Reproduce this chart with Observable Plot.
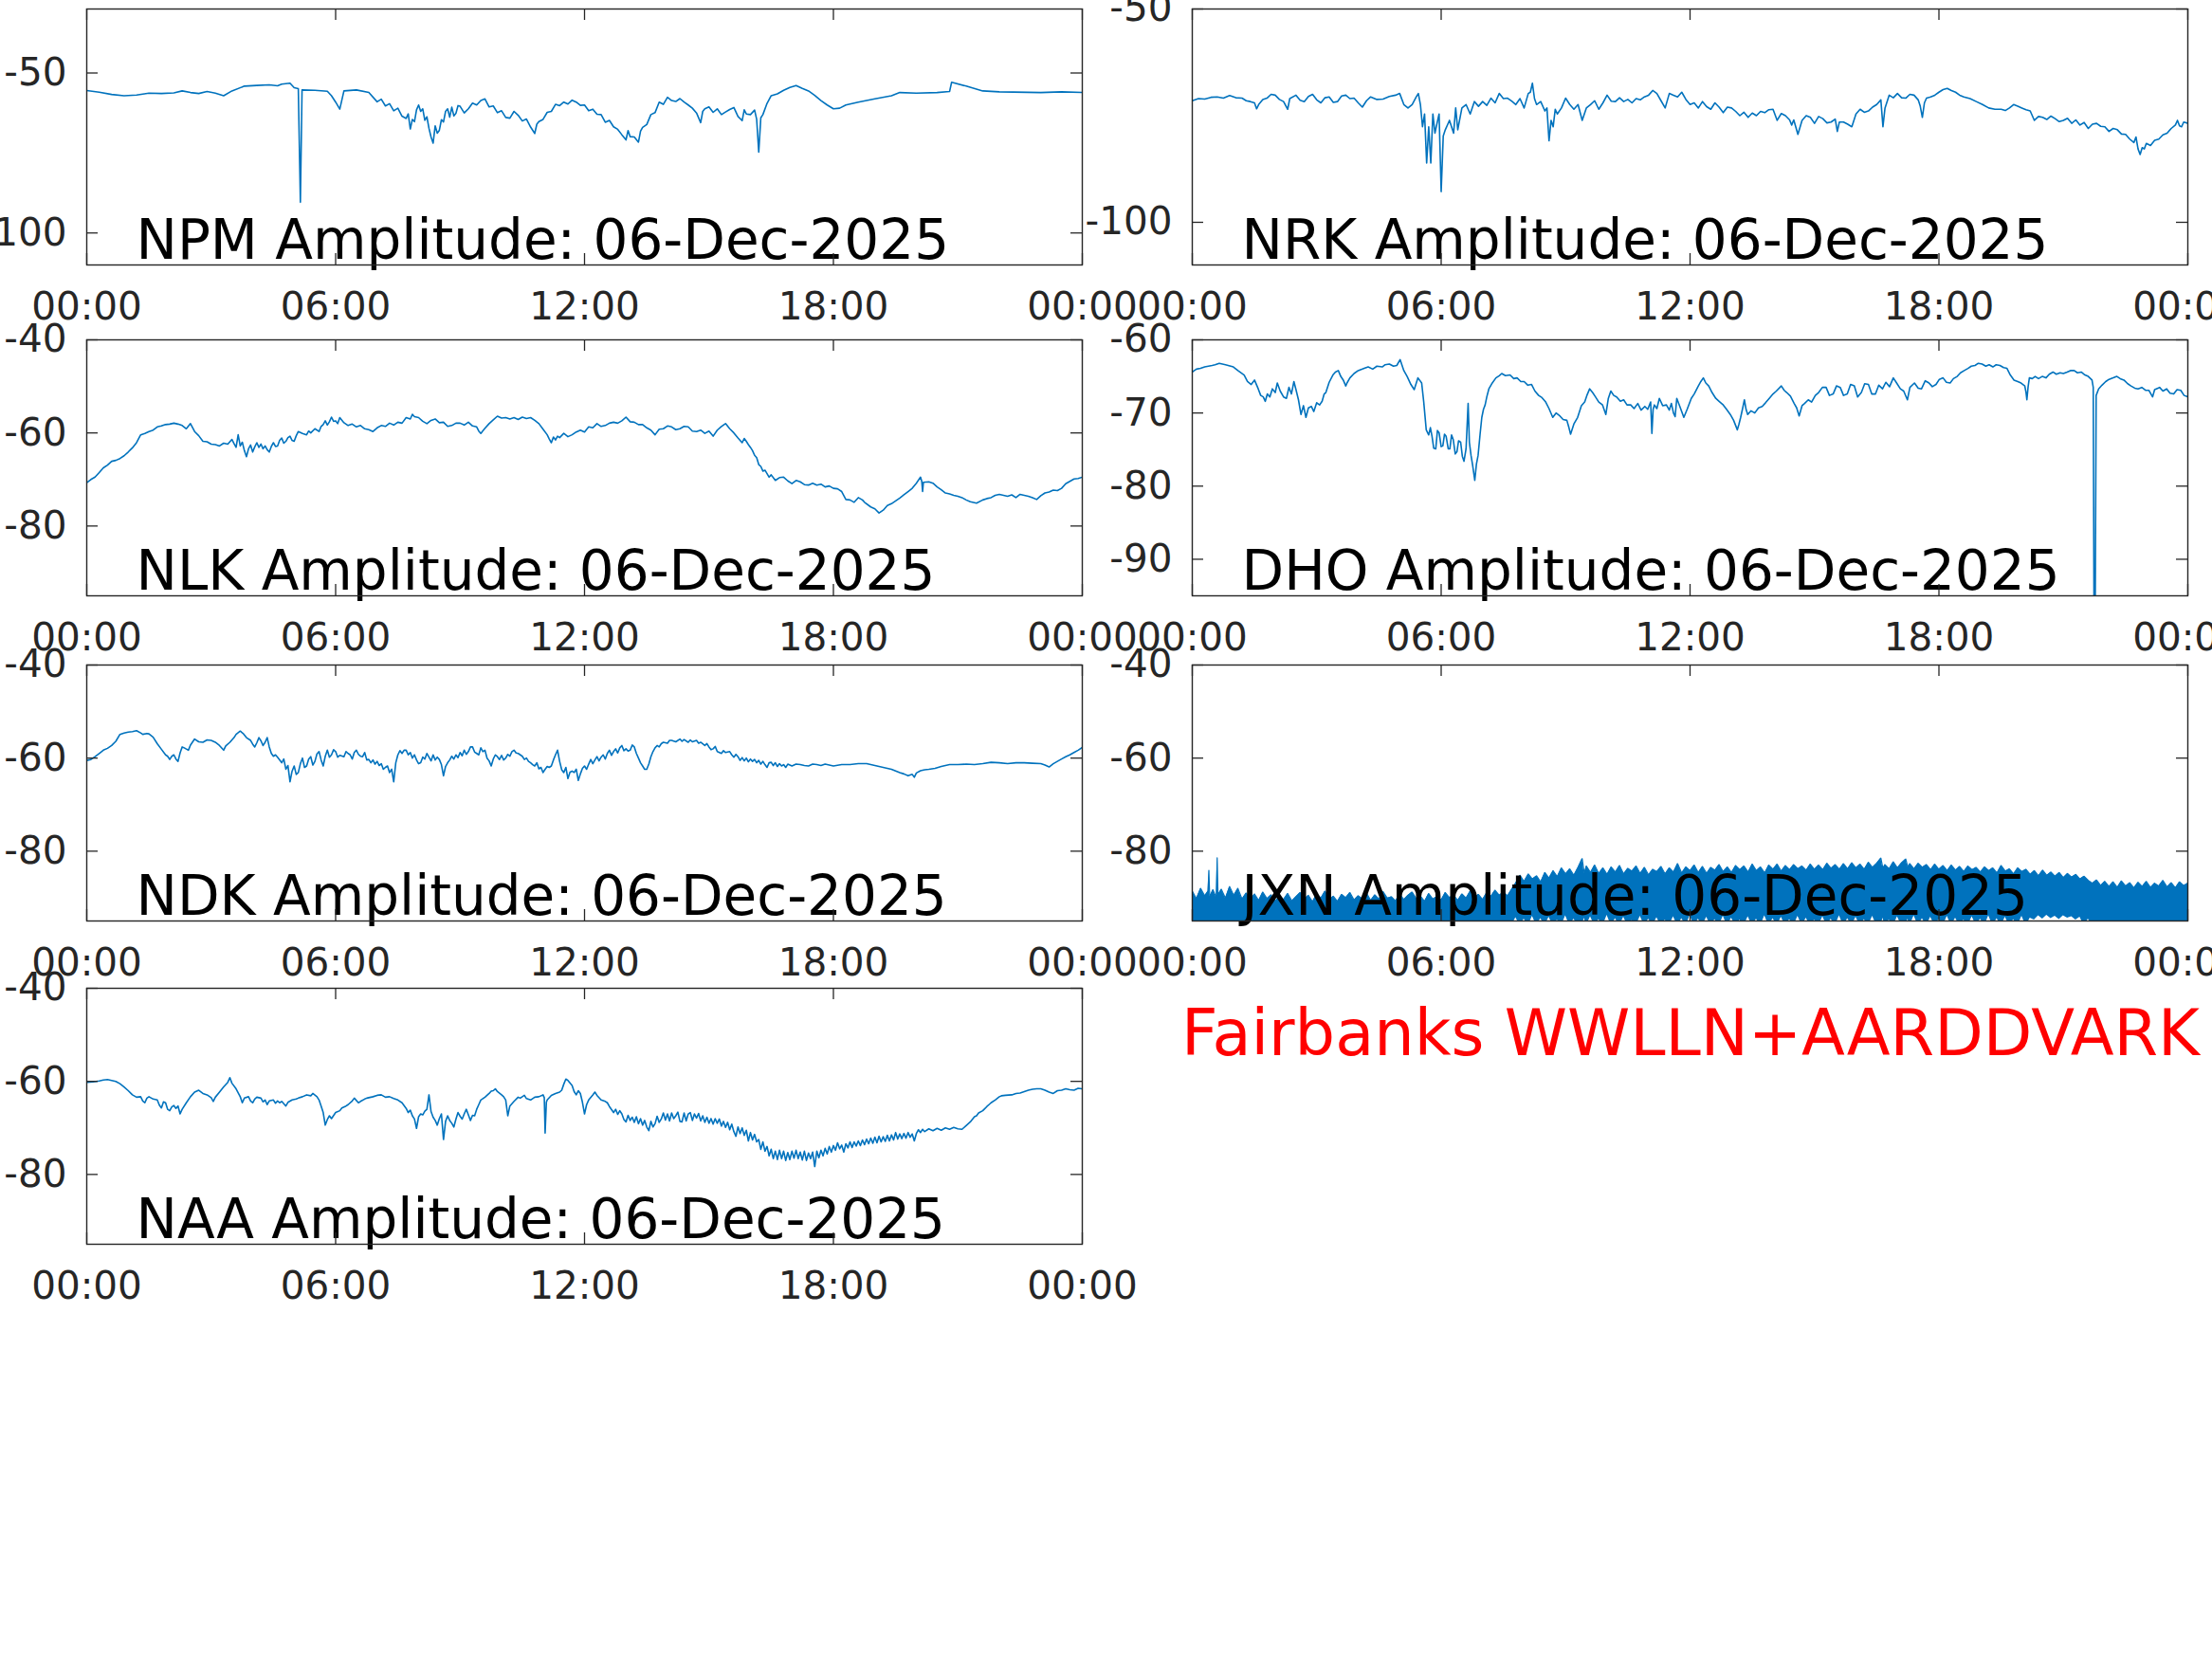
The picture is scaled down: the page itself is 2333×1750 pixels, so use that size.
<!DOCTYPE html>
<html><head><meta charset="utf-8">
<script src="https://cdn.jsdelivr.net/npm/d3@7"></script>
<script src="https://cdn.jsdelivr.net/npm/@observablehq/plot@0.6"></script>
<style>
html,body{margin:0;padding:0;background:#fff;}
#page{position:relative;width:2333px;height:1750px;overflow:hidden;background:#fff;font-family:"DejaVu Sans",sans-serif;}
#page svg{position:absolute;overflow:visible;}
#caption{position:absolute;left:1246px;top:1057px;font-size:67px;line-height:1;color:#ff0000;white-space:nowrap;font-family:"DejaVu Sans",sans-serif;}
</style></head><body><div id="page"><div id="caption">Fairbanks WWLLN+AARDDVARK</div></div>
<script>
// ---- tick labels ----
const xTicks = [0, 6, 12, 18, 24];
const xTickLabels = ["00:00", "06:00", "12:00", "18:00", "00:00"];
const dateLabel = "06-Dec-2025";
const captionText = "Fairbanks WWLLN+AARDDVARK";

// ---- series: [hour, amplitude dB] ----
const npm = [[0,-55.5],[0.3,-56],[0.6,-56.7],[0.9,-57.1],[1.2,-56.9],[1.5,-56.3],[1.8,-56.4],[2.1,-56.2],[2.3,-55.6],[2.5,-56.1],[2.7,-56.4],[2.9,-55.8],[3.1,-56.3],[3.3,-57.1],[3.5,-55.6],[3.8,-54.1],[4.1,-53.9],[4.4,-53.7],[4.6,-54.0],[4.7,-53.5],[4.9,-53.2],[5.0,-54.6],[5.1,-54.9],[5.15,-90.4],[5.19,-55.3],[5.5,-55.4],[5.8,-55.7],[5.9,-57.1],[6.0,-59.1],[6.1,-61.3],[6.2,-55.6],[6.5,-55.3],[6.8,-56.1],[7.0,-59.0],[7.1,-58.2],[7.2,-60.3],[7.3,-59.6],[7.4,-61.8],[7.5,-61.0],[7.6,-63.5],[7.7,-64.2],[7.75,-62.8],[7.8,-67.5],[7.85,-64.5],[7.9,-65.2],[7.95,-61.5],[8.0,-60.0],[8.05,-62.0],[8.1,-61.2],[8.15,-64.8],[8.2,-63.7],[8.25,-67.3],[8.3,-70.0],[8.35,-71.9],[8.4,-66.5],[8.45,-68.8],[8.5,-67.9],[8.55,-64.6],[8.6,-65.3],[8.65,-62.0],[8.7,-61.2],[8.75,-63.8],[8.8,-60.7],[8.85,-63.4],[8.9,-62.6],[8.95,-60.2],[9.0,-60.4],[9.1,-62.5],[9.2,-61.2],[9.3,-59.4],[9.4,-60.0],[9.5,-58.6],[9.6,-58.1],[9.7,-60.6],[9.8,-60.3],[9.9,-62.4],[10.0,-61.8],[10.1,-63.9],[10.2,-64.1],[10.3,-62.0],[10.4,-63.2],[10.5,-65.0],[10.6,-64.4],[10.7,-66.9],[10.8,-68.9],[10.85,-66.0],[10.9,-65.2],[11.0,-64.5],[11.1,-62.3],[11.2,-62.0],[11.3,-59.8],[11.4,-60.2],[11.5,-59.1],[11.6,-59.7],[11.7,-58.5],[11.8,-59.1],[11.9,-60.1],[12.0,-60.0],[12.1,-61.8],[12.2,-61.3],[12.3,-62.9],[12.4,-63.0],[12.5,-65.4],[12.6,-64.8],[12.7,-66.8],[12.8,-67.6],[12.9,-69.3],[13.0,-70.9],[13.05,-68.0],[13.1,-69.9],[13.2,-70.0],[13.3,-71.6],[13.35,-68.2],[13.4,-67.0],[13.5,-66.1],[13.6,-63.0],[13.7,-62.4],[13.8,-59.1],[13.9,-59.8],[14.0,-57.6],[14.1,-58.6],[14.2,-58.9],[14.3,-58.0],[14.4,-59.1],[14.5,-60.0],[14.6,-61.0],[14.7,-62.5],[14.8,-65.5],[14.85,-62.0],[14.9,-61.2],[15.0,-60.6],[15.1,-62.3],[15.2,-61.2],[15.3,-63.0],[15.4,-62.2],[15.5,-61.4],[15.6,-60.8],[15.7,-63.6],[15.8,-64.9],[15.85,-61.5],[15.9,-62.8],[16.0,-63.0],[16.1,-61.6],[16.15,-64.5],[16.2,-74.7],[16.25,-64.0],[16.3,-63.0],[16.4,-59.5],[16.5,-57.1],[16.65,-56.5],[16.8,-55.4],[16.95,-54.5],[17.1,-53.9],[17.25,-54.8],[17.4,-55.6],[17.55,-57.0],[17.7,-58.6],[17.85,-60.0],[18.0,-61.2],[18.15,-61.0],[18.3,-60.0],[18.6,-59.1],[19.0,-58.1],[19.4,-57.1],[19.6,-56.1],[20.0,-56.3],[20.5,-56.1],[20.8,-55.8],[20.85,-52.9],[21.2,-54.1],[21.6,-55.6],[22,-55.9],[23,-56.1],[23.5,-55.9],[24,-56.1]];

const nrk = [[0,-71.5],[0.15,-71.0],[0.3,-71.1],[0.45,-70.7],[0.6,-70.6],[0.75,-70.9],[0.9,-70.3],[1.05,-70.8],[1.2,-70.9],[1.3,-71.5],[1.4,-71.7],[1.5,-72.0],[1.55,-73.4],[1.6,-72.4],[1.7,-71.2],[1.8,-70.9],[1.9,-70.0],[2.0,-70.2],[2.1,-71.2],[2.2,-71.7],[2.3,-73.5],[2.35,-71.0],[2.5,-70.2],[2.6,-71.4],[2.7,-71.7],[2.8,-70.5],[2.9,-70.0],[3.0,-71.3],[3.1,-72.0],[3.2,-70.8],[3.3,-70.6],[3.4,-71.9],[3.5,-71.7],[3.6,-70.4],[3.7,-70.2],[3.8,-71.0],[3.9,-70.9],[4.0,-72.0],[4.1,-73.0],[4.2,-71.5],[4.3,-70.6],[4.45,-71.2],[4.6,-71.1],[4.75,-70.5],[4.9,-70.2],[5.0,-69.8],[5.1,-72.4],[5.2,-73.2],[5.3,-72.4],[5.4,-70.6],[5.45,-69.8],[5.5,-72.4],[5.55,-77.6],[5.6,-74.6],[5.65,-86.1],[5.7,-77.6],[5.75,-86.1],[5.8,-74.6],[5.85,-79.1],[5.9,-76.8],[5.95,-74.6],[6.0,-92.8],[6.05,-79.8],[6.1,-78.3],[6.2,-76.1],[6.3,-79.1],[6.35,-73.2],[6.4,-78.3],[6.5,-73.2],[6.6,-72.4],[6.7,-74.6],[6.8,-71.7],[6.9,-72.8],[7.0,-71.7],[7.1,-72.6],[7.2,-70.9],[7.3,-72.0],[7.4,-69.8],[7.5,-71.0],[7.6,-70.9],[7.7,-71.6],[7.8,-72.4],[7.9,-71.0],[8.0,-73.2],[8.1,-69.8],[8.15,-69.5],[8.2,-67.4],[8.25,-71.0],[8.3,-72.4],[8.4,-71.7],[8.5,-73.9],[8.55,-73.2],[8.6,-80.9],[8.65,-76.1],[8.7,-77.6],[8.75,-73.5],[8.8,-74.6],[8.9,-73.2],[9.0,-70.9],[9.1,-72.4],[9.2,-73.5],[9.3,-72.4],[9.4,-76.1],[9.5,-73.2],[9.6,-72.4],[9.7,-71.5],[9.8,-73.5],[9.9,-72.0],[10.0,-70.2],[10.1,-71.6],[10.2,-71.7],[10.3,-70.8],[10.4,-71.7],[10.5,-71.2],[10.6,-72.0],[10.7,-71.0],[10.8,-71.3],[10.9,-70.6],[11.0,-70.2],[11.1,-69.1],[11.2,-69.8],[11.3,-71.5],[11.4,-73.2],[11.5,-69.8],[11.6,-70.2],[11.7,-70.6],[11.8,-69.5],[11.9,-71.2],[12.0,-72.4],[12.1,-72.0],[12.2,-73.2],[12.3,-71.7],[12.4,-72.9],[12.5,-73.5],[12.6,-72.0],[12.7,-73.0],[12.8,-74.3],[12.9,-73.0],[13.0,-73.2],[13.1,-74.0],[13.2,-75.0],[13.3,-74.2],[13.4,-75.4],[13.5,-74.4],[13.6,-75.0],[13.7,-74.0],[13.8,-74.3],[13.9,-73.6],[14.0,-73.5],[14.1,-76.1],[14.2,-74.5],[14.3,-75.0],[14.4,-76.0],[14.45,-77.2],[14.5,-76.0],[14.6,-79.4],[14.7,-76.1],[14.8,-75.0],[14.9,-75.4],[15.0,-76.8],[15.1,-75.2],[15.2,-75.7],[15.3,-76.7],[15.4,-76.5],[15.5,-75.8],[15.55,-78.7],[15.6,-76.5],[15.7,-76.5],[15.8,-77.0],[15.9,-77.6],[16.0,-74.6],[16.1,-73.5],[16.2,-74.2],[16.3,-73.9],[16.4,-73.0],[16.5,-72.4],[16.6,-71.3],[16.65,-77.6],[16.7,-73.2],[16.8,-70.2],[16.9,-70.8],[17.0,-69.8],[17.1,-70.8],[17.2,-70.9],[17.3,-70.0],[17.4,-70.2],[17.5,-71.3],[17.55,-72.8],[17.6,-75.4],[17.65,-72.0],[17.7,-70.9],[17.8,-70.6],[17.9,-70.2],[18.0,-69.5],[18.1,-68.9],[18.2,-68.6],[18.3,-69.1],[18.4,-69.5],[18.5,-70.2],[18.6,-70.6],[18.75,-71.0],[18.9,-71.7],[19.05,-72.4],[19.2,-73.2],[19.35,-73.5],[19.5,-73.5],[19.6,-73.8],[19.7,-73.2],[19.8,-72.4],[19.9,-72.8],[20.0,-73.2],[20.1,-73.6],[20.2,-73.9],[20.3,-76.1],[20.4,-75.2],[20.5,-75.4],[20.6,-75.9],[20.7,-75.1],[20.8,-75.7],[20.9,-76.4],[21.0,-76.1],[21.1,-75.6],[21.2,-76.8],[21.3,-76.0],[21.4,-77.2],[21.5,-76.6],[21.6,-78.0],[21.7,-77.0],[21.8,-76.8],[21.9,-77.5],[22.0,-77.6],[22.1,-78.7],[22.2,-78.0],[22.3,-78.3],[22.4,-79.3],[22.5,-79.4],[22.6,-80.5],[22.7,-81.3],[22.75,-80.0],[22.8,-82.8],[22.85,-84.1],[22.9,-82.5],[22.95,-82.8],[23.0,-81.5],[23.1,-82.0],[23.2,-80.8],[23.3,-80.5],[23.4,-79.5],[23.5,-79.1],[23.6,-78.0],[23.7,-77.2],[23.75,-76.1],[23.8,-77.4],[23.85,-77.6],[23.9,-76.5],[24,-76.8]];

const nlk = [[0,-70.7],[0.1,-70.0],[0.2,-69.5],[0.3,-68.5],[0.4,-67.5],[0.5,-66.9],[0.6,-66.1],[0.7,-65.9],[0.8,-65.5],[0.9,-64.9],[1.0,-64.1],[1.1,-63.2],[1.2,-62.1],[1.3,-60.4],[1.4,-60.1],[1.5,-59.7],[1.6,-59.4],[1.7,-58.7],[1.8,-58.5],[1.9,-58.2],[2.0,-58.1],[2.1,-57.9],[2.2,-58.1],[2.3,-58.4],[2.4,-59.1],[2.5,-58.0],[2.6,-59.7],[2.7,-60.6],[2.8,-61.8],[2.9,-61.9],[3.0,-62.4],[3.1,-62.5],[3.2,-62.8],[3.3,-62.2],[3.4,-62.4],[3.5,-61.4],[3.55,-62.3],[3.6,-63.1],[3.65,-60.4],[3.7,-62.8],[3.75,-62.0],[3.8,-63.8],[3.85,-65.1],[3.9,-63.4],[3.95,-62.6],[4.0,-64.1],[4.05,-63.0],[4.1,-62.1],[4.15,-63.1],[4.2,-62.4],[4.25,-63.4],[4.3,-62.8],[4.35,-63.6],[4.4,-64.1],[4.45,-62.9],[4.5,-62.1],[4.55,-62.9],[4.6,-62.8],[4.65,-61.6],[4.7,-61.1],[4.75,-62.2],[4.8,-61.8],[4.85,-61.0],[4.9,-60.7],[4.95,-61.6],[5.0,-61.8],[5.05,-60.6],[5.1,-59.7],[5.2,-60.1],[5.3,-60.4],[5.35,-59.6],[5.4,-60.0],[5.5,-59.1],[5.6,-59.7],[5.65,-58.6],[5.7,-58.2],[5.75,-57.4],[5.8,-58.3],[5.85,-57.6],[5.9,-56.6],[5.95,-57.5],[6.0,-57.4],[6.05,-58.0],[6.1,-56.7],[6.2,-57.8],[6.3,-58.4],[6.4,-58.1],[6.5,-58.7],[6.6,-58.4],[6.7,-59.1],[6.8,-59.3],[6.9,-59.7],[7.0,-58.9],[7.1,-58.4],[7.2,-58.6],[7.3,-57.9],[7.4,-58.3],[7.5,-57.7],[7.6,-57.9],[7.7,-56.7],[7.8,-57.0],[7.85,-56.0],[7.9,-56.5],[8.0,-56.7],[8.1,-57.5],[8.2,-58.0],[8.3,-57.3],[8.4,-57.0],[8.5,-57.8],[8.6,-57.7],[8.7,-58.6],[8.8,-58.4],[8.9,-57.9],[9.0,-57.9],[9.1,-58.3],[9.2,-57.7],[9.3,-58.5],[9.4,-58.7],[9.45,-59.6],[9.5,-60.1],[9.6,-59.0],[9.7,-58.0],[9.8,-57.2],[9.9,-56.4],[10.0,-56.8],[10.1,-56.7],[10.2,-57.0],[10.3,-56.7],[10.4,-57.1],[10.5,-56.6],[10.6,-56.9],[10.7,-56.7],[10.8,-57.3],[10.9,-58.0],[11.0,-59.2],[11.1,-60.4],[11.15,-61.3],[11.2,-62.1],[11.25,-60.9],[11.3,-61.5],[11.35,-60.7],[11.4,-61.0],[11.5,-60.1],[11.6,-60.8],[11.7,-60.4],[11.8,-59.8],[11.9,-59.4],[12.0,-59.8],[12.1,-58.7],[12.2,-58.9],[12.3,-58.0],[12.4,-58.6],[12.5,-58.4],[12.6,-57.9],[12.7,-57.7],[12.8,-57.9],[12.9,-57.4],[13.0,-56.6],[13.1,-57.6],[13.2,-57.7],[13.3,-58.2],[13.4,-58.2],[13.5,-58.9],[13.6,-59.4],[13.7,-60.4],[13.8,-59.2],[13.9,-59.1],[14.0,-58.5],[14.1,-58.7],[14.2,-59.3],[14.3,-59.1],[14.4,-58.6],[14.5,-58.7],[14.6,-59.6],[14.7,-59.7],[14.8,-59.4],[14.9,-60.1],[15.0,-59.6],[15.1,-60.7],[15.2,-59.4],[15.3,-58.6],[15.4,-58.0],[15.5,-59.1],[15.6,-60.0],[15.7,-61.1],[15.8,-62.1],[15.85,-61.2],[15.9,-61.8],[15.95,-62.5],[16.0,-63.1],[16.05,-63.8],[16.1,-64.8],[16.15,-65.3],[16.2,-66.8],[16.25,-67.2],[16.3,-68.2],[16.35,-68.0],[16.45,-69.5],[16.5,-69.0],[16.6,-70.2],[16.7,-69.6],[16.8,-69.5],[16.9,-70.3],[17.0,-70.9],[17.1,-70.2],[17.2,-70.5],[17.3,-71.1],[17.4,-71.2],[17.5,-70.8],[17.6,-71.2],[17.7,-71.0],[17.8,-71.6],[17.9,-71.4],[18.0,-71.9],[18.1,-72.0],[18.2,-72.6],[18.3,-74.3],[18.4,-74.4],[18.5,-74.9],[18.6,-73.9],[18.7,-74.4],[18.75,-74.9],[18.9,-75.9],[19.0,-76.3],[19.1,-77.2],[19.2,-76.6],[19.3,-75.6],[19.4,-75.2],[19.5,-74.6],[19.6,-74.0],[19.7,-73.3],[19.8,-72.6],[19.9,-71.9],[20.0,-70.8],[20.1,-69.5],[20.13,-70.4],[20.15,-72.6],[20.17,-70.6],[20.3,-70.5],[20.4,-70.8],[20.5,-71.6],[20.6,-72.2],[20.7,-72.9],[20.8,-73.1],[20.9,-73.4],[21.0,-73.6],[21.1,-73.9],[21.2,-74.4],[21.3,-74.8],[21.45,-75.1],[21.6,-74.4],[21.7,-74.1],[21.8,-73.9],[21.9,-73.4],[22.0,-73.2],[22.1,-73.4],[22.2,-73.6],[22.3,-73.3],[22.4,-73.9],[22.5,-73.2],[22.6,-73.4],[22.7,-73.6],[22.8,-73.9],[22.9,-74.3],[23.0,-73.5],[23.1,-72.9],[23.2,-72.7],[23.3,-72.3],[23.4,-72.4],[23.5,-71.9],[23.6,-70.9],[23.7,-70.4],[23.8,-69.9],[23.9,-69.8],[24,-69.5]];

const dho = [[0,-64.4],[0.1,-64.0],[0.2,-63.9],[0.3,-63.7],[0.48,-63.5],[0.55,-63.4],[0.65,-63.2],[0.8,-63.4],[0.99,-63.7],[1.1,-64.2],[1.25,-64.8],[1.33,-65.7],[1.42,-66.1],[1.5,-65.5],[1.59,-66.7],[1.65,-67.6],[1.71,-67.8],[1.76,-68.4],[1.81,-67.4],[1.87,-67.8],[1.93,-66.7],[2.0,-67.2],[2.05,-65.9],[2.12,-67.0],[2.2,-67.8],[2.27,-68.0],[2.33,-66.5],[2.39,-67.4],[2.45,-65.7],[2.5,-66.8],[2.56,-68.2],[2.62,-70.2],[2.68,-69.0],[2.74,-70.6],[2.8,-69.3],[2.87,-69.1],[2.93,-69.8],[3.0,-68.6],[3.07,-68.9],[3.13,-68.4],[3.18,-67.4],[3.22,-67.2],[3.3,-65.8],[3.39,-64.8],[3.45,-64.4],[3.52,-64.2],[3.58,-65.0],[3.64,-65.5],[3.7,-66.3],[3.73,-65.9],[3.8,-65.2],[3.9,-64.6],[4.0,-64.2],[4.1,-64.0],[4.24,-63.7],[4.35,-64.0],[4.45,-63.6],[4.58,-63.7],[4.65,-63.4],[4.75,-63.3],[4.85,-63.6],[4.93,-63.5],[5.01,-62.7],[5.1,-64.2],[5.18,-65.0],[5.27,-66.1],[5.35,-66.8],[5.44,-65.2],[5.53,-65.9],[5.58,-68.5],[5.64,-72.3],[5.7,-73.0],[5.74,-72.0],[5.78,-73.2],[5.82,-74.8],[5.87,-74.9],[5.91,-72.4],[5.95,-72.7],[6.0,-74.6],[6.04,-74.5],[6.08,-72.9],[6.12,-73.2],[6.17,-74.9],[6.21,-74.9],[6.25,-73.0],[6.29,-73.6],[6.34,-75.6],[6.38,-75.3],[6.42,-73.8],[6.47,-74.0],[6.51,-75.9],[6.55,-76.6],[6.6,-74.9],[6.65,-68.7],[6.68,-74.0],[6.72,-75.8],[6.76,-77.2],[6.81,-79.2],[6.85,-77.0],[6.89,-75.8],[6.94,-72.8],[6.98,-70.6],[7.02,-69.5],[7.06,-68.9],[7.1,-67.8],[7.15,-66.7],[7.22,-66.0],[7.32,-65.2],[7.4,-64.9],[7.46,-64.6],[7.55,-64.9],[7.66,-64.8],[7.75,-65.3],[7.83,-65.2],[7.92,-65.7],[8.0,-65.7],[8.09,-66.2],[8.18,-66.1],[8.26,-67.0],[8.35,-67.6],[8.43,-67.9],[8.52,-68.5],[8.6,-69.4],[8.69,-70.6],[8.77,-70.0],[8.86,-70.4],[8.94,-70.9],[9.03,-71.0],[9.08,-72.0],[9.12,-72.9],[9.2,-71.5],[9.29,-70.6],[9.38,-69.0],[9.46,-68.5],[9.52,-67.5],[9.58,-66.7],[9.65,-67.2],[9.72,-67.8],[9.8,-68.5],[9.89,-68.9],[9.97,-70.2],[10.03,-68.0],[10.09,-67.0],[10.16,-67.6],[10.23,-67.8],[10.32,-68.4],[10.4,-68.2],[10.48,-68.9],[10.57,-68.9],[10.65,-69.4],[10.74,-68.7],[10.82,-69.6],[10.91,-69.1],[10.98,-69.5],[11.05,-68.5],[11.08,-72.8],[11.11,-69.5],[11.14,-68.9],[11.2,-69.4],[11.26,-68.0],[11.34,-69.0],[11.43,-68.9],[11.5,-69.6],[11.55,-68.7],[11.6,-70.0],[11.64,-70.5],[11.68,-68.0],[11.76,-69.2],[11.85,-70.6],[11.93,-69.5],[12.03,-68.0],[12.1,-67.4],[12.2,-66.3],[12.26,-65.7],[12.32,-65.2],[12.38,-65.9],[12.45,-66.3],[12.53,-67.2],[12.62,-68.0],[12.7,-68.4],[12.8,-68.9],[12.88,-69.5],[12.97,-70.2],[13.05,-71.0],[13.14,-72.3],[13.18,-71.5],[13.22,-70.6],[13.27,-69.3],[13.31,-68.2],[13.35,-69.5],[13.39,-70.2],[13.47,-69.7],[13.56,-70.0],[13.65,-69.3],[13.74,-69.1],[13.82,-68.6],[13.91,-68.0],[14.0,-67.4],[14.08,-67.0],[14.2,-66.3],[14.27,-66.9],[14.33,-67.2],[14.42,-67.7],[14.51,-68.7],[14.57,-69.3],[14.63,-70.4],[14.7,-69.0],[14.76,-68.7],[14.85,-68.2],[14.93,-68.5],[15.02,-67.6],[15.1,-67.2],[15.19,-66.5],[15.28,-66.5],[15.36,-67.6],[15.45,-67.4],[15.53,-66.3],[15.62,-66.5],[15.7,-67.6],[15.79,-67.4],[15.87,-66.1],[15.96,-66.3],[16.04,-67.8],[16.13,-67.2],[16.21,-66.0],[16.3,-66.1],[16.38,-67.4],[16.47,-67.4],[16.55,-66.2],[16.64,-66.7],[16.72,-65.8],[16.81,-66.4],[16.9,-65.2],[16.98,-65.9],[17.07,-66.7],[17.15,-67.0],[17.24,-68.2],[17.3,-66.5],[17.41,-65.9],[17.5,-66.6],[17.58,-66.7],[17.67,-65.6],[17.76,-65.9],[17.84,-66.4],[17.93,-66.1],[18.01,-65.4],[18.1,-65.2],[18.18,-65.8],[18.27,-65.9],[18.35,-65.3],[18.44,-65.0],[18.52,-64.5],[18.61,-64.2],[18.7,-63.9],[18.78,-63.6],[18.87,-63.5],[18.95,-63.2],[19.04,-63.3],[19.13,-63.6],[19.21,-63.4],[19.3,-63.7],[19.38,-63.4],[19.47,-63.5],[19.56,-63.8],[19.64,-63.9],[19.72,-64.8],[19.81,-65.5],[19.9,-65.7],[19.98,-65.9],[20.07,-66.3],[20.1,-67.2],[20.12,-68.2],[20.15,-66.4],[20.18,-65.2],[20.25,-65.3],[20.32,-65.0],[20.4,-65.3],[20.49,-65.0],[20.58,-65.2],[20.66,-64.7],[20.75,-64.4],[20.83,-64.7],[20.92,-64.5],[21.0,-64.6],[21.09,-64.4],[21.17,-64.2],[21.26,-64.2],[21.34,-64.5],[21.43,-64.4],[21.52,-64.8],[21.6,-65.0],[21.69,-65.5],[21.72,-66.5],[21.74,-100],[21.765,-100],[21.79,-67.6],[21.85,-66.7],[21.93,-66.2],[22.02,-65.7],[22.1,-65.4],[22.2,-65.2],[22.29,-65.0],[22.37,-65.3],[22.46,-65.5],[22.55,-66.0],[22.63,-66.3],[22.72,-66.6],[22.8,-66.7],[22.89,-66.5],[22.98,-66.9],[23.06,-66.9],[23.15,-67.8],[23.2,-66.8],[23.32,-66.5],[23.4,-67.0],[23.49,-66.7],[23.57,-67.3],[23.66,-67.4],[23.74,-66.8],[23.83,-66.9],[23.91,-67.6],[24,-67.8]];

const ndk = [[0,-60.5],[0.1,-60.3],[0.2,-59.7],[0.3,-59.0],[0.4,-58.3],[0.5,-57.9],[0.6,-57.3],[0.7,-56.4],[0.8,-54.9],[0.9,-54.6],[1.0,-54.4],[1.1,-54.3],[1.2,-54.1],[1.3,-54.6],[1.35,-54.9],[1.45,-54.7],[1.5,-54.8],[1.6,-55.5],[1.7,-56.9],[1.8,-58.1],[1.9,-59.3],[1.95,-59.6],[2.0,-60.3],[2.05,-59.6],[2.1,-59.3],[2.15,-60.2],[2.2,-60.7],[2.25,-58.9],[2.3,-57.6],[2.35,-57.8],[2.45,-58.3],[2.5,-57.2],[2.6,-55.9],[2.7,-56.5],[2.8,-56.6],[2.9,-56.1],[3.0,-56.2],[3.1,-56.6],[3.2,-57.3],[3.3,-58.3],[3.35,-57.4],[3.45,-56.6],[3.55,-55.6],[3.6,-54.9],[3.7,-54.2],[3.78,-54.8],[3.85,-55.6],[3.95,-56.2],[4.0,-57.0],[4.05,-57.6],[4.1,-56.7],[4.15,-55.6],[4.2,-56.3],[4.25,-57.3],[4.3,-56.6],[4.35,-55.6],[4.4,-57.6],[4.45,-59.0],[4.5,-59.6],[4.55,-59.3],[4.6,-59.8],[4.7,-61.0],[4.75,-60.2],[4.8,-62.4],[4.85,-61.6],[4.9,-65.1],[4.95,-62.8],[5.0,-61.7],[5.05,-63.5],[5.1,-63.1],[5.15,-61.2],[5.2,-60.0],[5.25,-62.0],[5.3,-61.7],[5.35,-60.2],[5.4,-59.7],[5.45,-61.5],[5.5,-60.7],[5.55,-59.1],[5.6,-58.6],[5.65,-60.4],[5.7,-61.7],[5.75,-59.6],[5.8,-58.3],[5.85,-59.8],[5.9,-59.3],[5.95,-58.2],[6.0,-58.6],[6.05,-59.8],[6.1,-59.4],[6.2,-59.7],[6.25,-58.6],[6.3,-59.0],[6.35,-59.3],[6.4,-60.2],[6.45,-58.8],[6.5,-58.3],[6.55,-59.2],[6.6,-59.6],[6.65,-59.7],[6.7,-58.8],[6.75,-60.4],[6.8,-60.3],[6.85,-61.0],[6.9,-60.4],[6.95,-61.3],[7.0,-60.7],[7.05,-61.6],[7.1,-61.2],[7.15,-62.4],[7.2,-62.0],[7.25,-61.7],[7.3,-63.1],[7.35,-62.4],[7.4,-65.1],[7.45,-61.0],[7.5,-59.3],[7.55,-58.4],[7.6,-59.0],[7.65,-58.3],[7.7,-58.3],[7.75,-59.3],[7.8,-58.8],[7.85,-60.0],[7.9,-59.3],[7.95,-60.4],[8.0,-61.2],[8.05,-61.0],[8.1,-59.8],[8.15,-60.2],[8.2,-59.0],[8.25,-59.8],[8.3,-60.6],[8.35,-59.3],[8.4,-60.4],[8.45,-59.8],[8.5,-60.3],[8.55,-61.4],[8.6,-63.8],[8.65,-61.8],[8.7,-61.0],[8.75,-60.4],[8.8,-59.6],[8.85,-60.2],[8.9,-59.3],[8.95,-59.9],[9.0,-58.8],[9.05,-59.5],[9.1,-58.3],[9.15,-59.2],[9.2,-58.6],[9.25,-57.6],[9.3,-57.6],[9.35,-58.7],[9.4,-59.0],[9.45,-59.3],[9.5,-57.8],[9.55,-58.6],[9.6,-58.3],[9.65,-60.0],[9.7,-60.6],[9.75,-61.7],[9.8,-60.2],[9.85,-59.3],[9.9,-59.7],[9.95,-60.3],[10.0,-59.4],[10.05,-60.4],[10.1,-60.0],[10.15,-59.2],[10.2,-59.6],[10.25,-58.6],[10.3,-58.3],[10.35,-58.9],[10.4,-59.0],[10.45,-59.3],[10.5,-59.6],[10.55,-60.3],[10.6,-60.0],[10.65,-60.7],[10.7,-61.0],[10.75,-61.4],[10.8,-61.7],[10.85,-61.0],[10.9,-62.3],[10.95,-62.0],[11.0,-63.1],[11.05,-62.4],[11.1,-61.8],[11.15,-62.0],[11.2,-61.7],[11.25,-60.4],[11.3,-59.3],[11.35,-58.3],[11.4,-60.7],[11.45,-62.5],[11.5,-63.1],[11.55,-62.0],[11.6,-64.4],[11.65,-63.0],[11.7,-62.8],[11.75,-63.1],[11.8,-62.4],[11.85,-64.8],[11.9,-63.4],[11.95,-62.2],[12.0,-61.7],[12.05,-62.4],[12.1,-61.3],[12.15,-60.3],[12.2,-61.2],[12.25,-60.4],[12.3,-59.7],[12.35,-60.6],[12.4,-59.8],[12.45,-59.3],[12.5,-60.2],[12.55,-59.0],[12.6,-58.3],[12.65,-59.4],[12.7,-58.6],[12.75,-58.0],[12.8,-58.9],[12.85,-57.8],[12.9,-57.3],[12.95,-58.4],[13.0,-58.0],[13.05,-58.5],[13.1,-58.3],[13.15,-57.2],[13.2,-57.6],[13.25,-59.0],[13.3,-60.0],[13.35,-61.0],[13.4,-61.7],[13.45,-62.4],[13.5,-62.4],[13.55,-61.3],[13.6,-59.7],[13.65,-58.6],[13.7,-57.8],[13.75,-57.3],[13.8,-57.6],[13.85,-56.9],[13.9,-56.6],[14.0,-56.8],[14.05,-56.2],[14.1,-56.2],[14.2,-56.5],[14.3,-55.9],[14.35,-56.4],[14.4,-56.0],[14.5,-56.6],[14.55,-56.1],[14.6,-56.5],[14.7,-56.2],[14.75,-56.8],[14.8,-56.6],[14.9,-57.3],[14.95,-56.9],[15.0,-57.6],[15.05,-58.2],[15.1,-58.0],[15.15,-57.5],[15.2,-58.6],[15.3,-59.0],[15.35,-58.4],[15.4,-58.8],[15.5,-58.6],[15.55,-59.3],[15.6,-59.8],[15.65,-59.2],[15.7,-59.7],[15.75,-60.5],[15.8,-59.9],[15.85,-60.6],[15.9,-60.0],[15.95,-60.8],[16.0,-60.2],[16.05,-60.7],[16.1,-60.3],[16.15,-61.0],[16.2,-60.5],[16.25,-61.3],[16.3,-60.7],[16.35,-61.4],[16.4,-62.0],[16.45,-61.0],[16.5,-60.9],[16.55,-61.6],[16.6,-61.0],[16.65,-61.8],[16.7,-61.2],[16.75,-61.7],[16.8,-61.4],[16.85,-62.0],[16.9,-61.3],[17.0,-61.7],[17.1,-61.3],[17.2,-61.4],[17.3,-61.6],[17.4,-61.7],[17.5,-61.3],[17.6,-61.4],[17.7,-61.6],[17.8,-61.3],[18.0,-61.7],[18.2,-61.4],[18.4,-61.4],[18.6,-61.2],[18.8,-61.2],[19.0,-61.6],[19.2,-62.0],[19.4,-62.4],[19.6,-63.1],[19.7,-63.4],[19.8,-63.8],[19.9,-63.5],[19.95,-64.1],[20.0,-63.2],[20.1,-62.7],[20.2,-62.5],[20.3,-62.4],[20.45,-62.2],[20.6,-61.8],[20.8,-61.4],[21.0,-61.4],[21.2,-61.3],[21.4,-61.4],[21.6,-61.2],[21.8,-60.9],[22.0,-61.0],[22.2,-61.2],[22.4,-61.0],[22.6,-61.0],[22.8,-61.1],[23.0,-61.2],[23.1,-61.5],[23.2,-61.9],[23.3,-61.2],[23.4,-60.7],[23.5,-60.2],[23.6,-59.7],[23.7,-59.3],[23.8,-58.8],[23.9,-58.3],[24,-57.7]];

// JXN: [hour, band low, band high] (dense noise band)
const jxn = [[0,-96,-88.6],[0.1,-96,-90.2],[0.2,-96,-88.0],[0.3,-96,-89.6],[0.38,-96,-88.6],[0.4,-96,-84.1],[0.42,-96,-89.8],[0.5,-96,-88.3],[0.58,-96,-90.0],[0.6,-96,-81.4],[0.62,-96,-89.4],[0.7,-96,-88.2],[0.8,-96,-90.1],[0.9,-96,-87.6],[1.0,-96,-89.5],[1.1,-96,-88.0],[1.2,-96,-90.3],[1.3,-96,-89.0],[1.4,-96,-90.5],[1.5,-96,-89.2],[1.6,-96,-90.6],[1.7,-96,-88.8],[1.8,-96,-90.2],[1.9,-96,-89.4],[2.0,-96,-90.8],[2.1,-96,-89.6],[2.2,-96,-90.4],[2.3,-96,-89.1],[2.4,-96,-90.7],[2.5,-96,-89.8],[2.6,-96,-88.9],[2.7,-96,-90.3],[2.8,-96,-89.5],[2.9,-96,-90.9],[3.0,-96,-89.2],[3.1,-96,-90.1],[3.2,-96,-88.6],[3.3,-96,-90.4],[3.4,-96,-89.7],[3.5,-96,-90.8],[3.6,-96,-89.3],[3.7,-96,-90.0],[3.8,-96,-88.9],[3.9,-96,-90.5],[4.0,-96,-89.6],[4.1,-96,-90.2],[4.2,-96,-89.0],[4.3,-96,-90.6],[4.4,-96,-89.4],[4.5,-96,-90.3],[4.6,-96,-88.7],[4.7,-96,-90.1],[4.8,-96,-89.8],[4.9,-96,-90.7],[5.0,-96,-89.2],[5.1,-96,-90.4],[5.2,-96,-89.5],[5.3,-96,-88.8],[5.4,-96,-90.2],[5.5,-96,-89.6],[5.6,-96,-90.8],[5.7,-96,-89.1],[5.8,-96,-90.3],[5.9,-96,-89.7],[6.0,-96,-90.5],[6.1,-96,-88.9],[6.2,-96,-90.0],[6.3,-96,-89.4],[6.4,-96,-90.6],[6.5,-96,-89.2],[6.6,-96,-90.1],[6.7,-96,-88.6],[6.8,-96,-89.9],[6.9,-96,-89.3],[7.0,-96,-90.4],[7.1,-96,-88.9],[7.2,-96,-89.7],[7.3,-96,-88.4],[7.4,-96,-89.5],[7.5,-96,-88.8],[7.6,-96,-89.6],[7.7,-96,-88.2],[7.8,-94.3,-86.8],[7.9,-96,-85.2],[8.0,-94.6,-86.5],[8.1,-96,-84.9],[8.2,-94.0,-86.0],[8.3,-96,-85.3],[8.4,-94.5,-86.6],[8.5,-96,-84.6],[8.6,-94.2,-85.8],[8.7,-96,-84.2],[8.8,-94.8,-85.5],[8.9,-96,-83.6],[9.0,-93.9,-84.9],[9.1,-96,-83.8],[9.2,-94.6,-85.2],[9.3,-96,-83.5],[9.4,-96,-81.6],[9.45,-94.4,-84.8],[9.5,-96,-83.2],[9.6,-94.1,-84.6],[9.7,-96,-83.0],[9.8,-94.7,-84.8],[9.9,-96,-83.6],[10.0,-93.8,-85.0],[10.1,-96,-83.4],[10.2,-94.5,-84.5],[10.3,-96,-83.1],[10.4,-94.2,-84.9],[10.5,-96,-83.7],[10.6,-94.9,-84.3],[10.7,-96,-83.2],[10.8,-94.0,-84.8],[10.9,-96,-83.5],[11.0,-94.6,-85.1],[11.1,-96,-83.9],[11.2,-94.3,-84.4],[11.3,-96,-83.3],[11.4,-94.8,-84.9],[11.5,-96,-83.6],[11.6,-94.1,-84.5],[11.7,-96,-82.7],[11.8,-94.5,-84.7],[11.9,-96,-83.4],[12.0,-93.9,-84.2],[12.1,-96,-83.0],[12.2,-94.6,-84.6],[12.3,-96,-83.3],[12.4,-94.2,-84.8],[12.5,-96,-83.5],[12.6,-94.7,-84.1],[12.7,-96,-82.9],[12.8,-94.0,-84.4],[12.9,-96,-83.4],[13.0,-94.4,-84.6],[13.1,-96,-83.1],[13.2,-94.8,-84.0],[13.3,-96,-83.2],[13.4,-94.1,-84.5],[13.5,-96,-82.8],[13.6,-94.6,-84.2],[13.7,-96,-83.4],[13.8,-93.9,-84.7],[13.9,-96,-83.0],[14.0,-94.5,-83.9],[14.1,-96,-82.8],[14.2,-94.2,-84.3],[14.3,-96,-83.1],[14.4,-94.7,-84.0],[14.5,-96,-82.9],[14.6,-94.0,-83.8],[14.7,-96,-83.2],[14.8,-94.4,-84.1],[14.9,-96,-82.8],[15.0,-94.8,-83.9],[15.1,-96,-83.0],[15.2,-94.1,-84.0],[15.3,-96,-82.6],[15.4,-94.6,-83.7],[15.5,-96,-82.9],[15.6,-93.9,-83.9],[15.7,-96,-82.7],[15.8,-94.5,-83.8],[15.9,-96,-82.5],[16.0,-94.2,-83.6],[16.1,-96,-82.8],[16.2,-94.7,-83.9],[16.3,-96,-82.4],[16.4,-94.0,-83.5],[16.5,-96,-82.6],[16.6,-96,-81.5],[16.65,-94.4,-83.7],[16.7,-96,-82.9],[16.8,-94.8,-83.8],[16.9,-96,-82.3],[17.0,-94.1,-83.6],[17.1,-96,-82.5],[17.2,-96,-81.7],[17.25,-94.6,-83.4],[17.3,-96,-82.7],[17.4,-93.9,-83.8],[17.5,-96,-82.6],[17.6,-94.5,-83.5],[17.7,-96,-82.9],[17.8,-94.2,-84.0],[17.9,-96,-82.8],[18.0,-94.7,-83.9],[18.1,-96,-83.1],[18.2,-94.0,-84.2],[18.3,-96,-83.0],[18.4,-94.4,-84.1],[18.5,-96,-83.3],[18.6,-94.8,-84.4],[18.7,-96,-83.2],[18.8,-94.1,-84.0],[18.9,-96,-83.5],[19.0,-94.6,-84.5],[19.1,-96,-83.4],[19.2,-93.9,-84.2],[19.3,-96,-83.6],[19.4,-94.5,-84.7],[19.5,-96,-83.1],[19.6,-94.2,-84.3],[19.7,-96,-83.8],[19.8,-94.7,-84.9],[19.9,-96,-83.6],[20.0,-94.0,-84.4],[20.1,-96,-83.9],[20.2,-94.4,-85.0],[20.3,-94.8,-84.2],[20.4,-93.9,-85.3],[20.5,-94.6,-84.1],[20.6,-93.8,-85.2],[20.7,-94.5,-84.5],[20.8,-94.0,-85.4],[20.9,-94.7,-84.6],[21.0,-93.9,-85.7],[21.1,-94.4,-84.8],[21.2,-94.1,-85.6],[21.3,-94.8,-85.0],[21.4,-94.2,-86.0],[21.5,-96,-85.4],[21.6,-94.6,-86.3],[21.7,-96,-86.9],[21.8,-96,-86.2],[21.9,-96,-87.4],[22.0,-96,-86.5],[22.1,-96,-87.6],[22.2,-96,-86.6],[22.3,-96,-87.8],[22.4,-96,-86.4],[22.5,-96,-87.5],[22.6,-96,-86.8],[22.7,-96,-87.9],[22.8,-96,-86.7],[22.9,-96,-87.6],[23.0,-96,-86.5],[23.1,-96,-87.8],[23.2,-96,-86.9],[23.3,-96,-87.5],[23.4,-96,-86.3],[23.5,-96,-87.7],[23.6,-96,-86.8],[23.7,-96,-87.9],[23.8,-96,-86.6],[23.9,-96,-87.4],[24,-96,-86.9]];

const naa = [[0,-60.2],[0.15,-60.1],[0.3,-59.9],[0.4,-59.7],[0.5,-59.6],[0.6,-59.8],[0.7,-60.0],[0.8,-60.5],[0.9,-61.2],[1.0,-62.0],[1.1,-62.9],[1.2,-63.4],[1.3,-63.3],[1.35,-64.2],[1.4,-64.6],[1.45,-63.6],[1.5,-63.3],[1.6,-63.8],[1.7,-64.0],[1.75,-65.1],[1.8,-65.7],[1.85,-64.4],[1.9,-64.6],[1.95,-66.0],[2.0,-66.3],[2.05,-65.5],[2.1,-65.2],[2.15,-65.8],[2.2,-65.3],[2.25,-67.0],[2.3,-66.0],[2.4,-64.6],[2.5,-63.3],[2.6,-62.3],[2.7,-61.9],[2.8,-62.6],[2.9,-62.9],[3.0,-63.5],[3.05,-64.3],[3.1,-63.4],[3.2,-62.3],[3.3,-61.2],[3.4,-60.2],[3.45,-59.2],[3.5,-60.4],[3.6,-61.6],[3.7,-63.3],[3.75,-64.6],[3.8,-63.6],[3.9,-63.3],[3.95,-64.2],[4.0,-64.6],[4.05,-63.8],[4.1,-63.4],[4.2,-63.6],[4.25,-64.4],[4.3,-64.0],[4.35,-65.0],[4.4,-64.2],[4.5,-64.0],[4.55,-64.7],[4.6,-64.2],[4.65,-64.6],[4.7,-64.3],[4.8,-65.3],[4.85,-64.5],[4.95,-64.0],[5.05,-63.8],[5.1,-63.6],[5.2,-63.3],[5.3,-62.9],[5.4,-63.1],[5.45,-62.6],[5.55,-63.3],[5.6,-64.0],[5.65,-65.3],[5.7,-66.7],[5.75,-69.4],[5.8,-68.2],[5.85,-67.4],[5.9,-68.0],[6.0,-66.7],[6.1,-66.3],[6.15,-65.7],[6.25,-65.3],[6.3,-65.0],[6.4,-64.2],[6.45,-63.6],[6.55,-64.6],[6.6,-64.3],[6.7,-63.8],[6.75,-63.6],[6.85,-63.4],[6.9,-63.3],[7.0,-63.0],[7.1,-62.9],[7.2,-63.4],[7.3,-63.3],[7.4,-63.7],[7.5,-64.0],[7.6,-64.6],[7.7,-65.8],[7.75,-66.7],[7.8,-66.2],[7.85,-67.4],[7.9,-68.1],[7.95,-70.1],[8.0,-67.6],[8.05,-67.0],[8.1,-67.2],[8.15,-66.4],[8.2,-66.0],[8.25,-62.9],[8.3,-66.5],[8.35,-67.7],[8.4,-68.4],[8.45,-69.4],[8.5,-68.0],[8.55,-67.0],[8.6,-72.5],[8.65,-68.6],[8.7,-67.4],[8.75,-68.4],[8.8,-69.0],[8.85,-69.8],[8.9,-68.1],[8.95,-66.7],[9.0,-67.5],[9.05,-68.1],[9.1,-67.0],[9.15,-66.0],[9.2,-67.2],[9.25,-68.4],[9.3,-67.3],[9.35,-67.4],[9.4,-66.0],[9.45,-65.0],[9.5,-64.0],[9.6,-63.4],[9.7,-62.6],[9.75,-62.1],[9.8,-62.0],[9.85,-61.6],[9.9,-62.2],[10.0,-62.9],[10.05,-63.3],[10.1,-64.0],[10.15,-67.4],[10.2,-65.3],[10.3,-64.3],[10.4,-63.4],[10.45,-63.6],[10.55,-63.0],[10.6,-63.7],[10.7,-64.0],[10.8,-63.4],[10.9,-63.3],[11.0,-62.9],[11.03,-63.5],[11.05,-71.1],[11.08,-64.5],[11.1,-64.0],[11.2,-63.0],[11.3,-62.6],[11.4,-62.3],[11.45,-61.9],[11.5,-60.6],[11.55,-59.5],[11.6,-59.8],[11.7,-60.9],[11.75,-62.2],[11.8,-62.9],[11.85,-62.0],[11.9,-62.6],[11.95,-64.5],[12.0,-67.0],[12.05,-65.0],[12.1,-64.0],[12.2,-62.9],[12.25,-62.3],[12.3,-63.0],[12.4,-64.0],[12.5,-64.3],[12.55,-64.6],[12.6,-65.4],[12.7,-66.7],[12.75,-66.0],[12.8,-67.1],[12.85,-66.3],[12.9,-67.0],[12.95,-68.2],[13.0,-68.7],[13.05,-67.3],[13.1,-68.4],[13.15,-67.7],[13.2,-68.8],[13.25,-67.6],[13.3,-69.1],[13.35,-68.0],[13.4,-69.4],[13.45,-68.4],[13.5,-69.8],[13.55,-70.6],[13.6,-68.6],[13.65,-69.8],[13.7,-69.1],[13.75,-67.5],[13.8,-68.8],[13.85,-68.1],[13.9,-66.8],[13.95,-68.3],[14.0,-67.0],[14.05,-68.5],[14.1,-66.8],[14.15,-68.0],[14.2,-67.4],[14.25,-66.6],[14.3,-68.6],[14.35,-68.7],[14.4,-66.8],[14.45,-68.5],[14.5,-67.0],[14.55,-66.7],[14.6,-68.4],[14.65,-67.0],[14.7,-67.9],[14.75,-66.9],[14.8,-68.5],[14.85,-67.4],[14.9,-68.8],[14.95,-67.7],[15.0,-69.0],[15.05,-68.0],[15.1,-69.2],[15.15,-68.0],[15.2,-69.0],[15.25,-68.1],[15.3,-69.6],[15.35,-68.6],[15.4,-69.9],[15.45,-68.8],[15.5,-70.4],[15.55,-69.2],[15.6,-70.8],[15.65,-71.8],[15.7,-69.8],[15.75,-71.2],[15.8,-70.0],[15.85,-71.6],[15.9,-70.5],[15.95,-72.8],[16.0,-71.0],[16.05,-72.6],[16.1,-71.4],[16.15,-73.0],[16.2,-72.5],[16.25,-74.6],[16.3,-73.0],[16.35,-75.0],[16.4,-74.0],[16.45,-76.0],[16.5,-74.6],[16.55,-76.6],[16.6,-75.0],[16.65,-76.8],[16.7,-74.8],[16.75,-76.6],[16.8,-75.0],[16.85,-77.0],[16.9,-75.3],[16.95,-76.8],[17.0,-75.0],[17.05,-76.5],[17.1,-74.8],[17.15,-76.6],[17.2,-75.2],[17.25,-76.9],[17.3,-75.0],[17.35,-77.0],[17.4,-75.4],[17.45,-76.6],[17.5,-75.2],[17.55,-78.3],[17.6,-75.0],[17.65,-76.4],[17.7,-74.8],[17.75,-76.0],[17.8,-74.4],[17.85,-75.6],[17.9,-74.0],[17.95,-75.2],[18.0,-73.8],[18.05,-74.8],[18.1,-73.2],[18.15,-74.5],[18.2,-73.7],[18.25,-75.2],[18.3,-73.4],[18.35,-74.3],[18.4,-73.0],[18.45,-74.2],[18.5,-73.0],[18.55,-73.9],[18.6,-72.8],[18.65,-73.8],[18.7,-72.6],[18.75,-73.6],[18.8,-72.4],[18.85,-73.4],[18.9,-72.2],[18.95,-73.3],[19.0,-72.0],[19.05,-73.2],[19.1,-71.8],[19.15,-73.0],[19.2,-71.9],[19.25,-72.9],[19.3,-71.6],[19.35,-72.8],[19.4,-71.5],[19.45,-72.6],[19.5,-71.0],[19.55,-72.4],[19.6,-71.3],[19.65,-72.3],[19.7,-71.2],[19.75,-72.2],[19.8,-71.0],[19.85,-72.0],[19.9,-71.3],[19.95,-72.8],[20.0,-71.2],[20.05,-70.4],[20.1,-71.0],[20.15,-70.3],[20.2,-70.8],[20.3,-70.2],[20.4,-70.6],[20.5,-70.1],[20.6,-70.5],[20.7,-70.0],[20.8,-70.3],[20.9,-69.9],[21.0,-70.2],[21.1,-70.3],[21.2,-69.5],[21.3,-68.7],[21.4,-67.6],[21.45,-67.4],[21.5,-66.8],[21.6,-66.3],[21.7,-65.4],[21.75,-65.0],[21.8,-64.6],[21.9,-64.0],[22.0,-63.3],[22.05,-63.1],[22.15,-63.0],[22.3,-62.9],[22.4,-62.6],[22.5,-62.5],[22.6,-62.2],[22.7,-61.9],[22.8,-61.7],[22.9,-61.6],[23.0,-61.6],[23.1,-61.9],[23.2,-62.3],[23.3,-62.6],[23.4,-62.0],[23.5,-61.9],[23.6,-61.6],[23.7,-61.8],[23.8,-61.9],[23.9,-61.5],[24,-61.6]];

// ---- panel configuration ----
const blue = "#0072BD";
const axisColor = "#262626";
const panels = [
  {station: "NPM", series: npm, yDomain: [-110, -30], yTicks: [-100, -50], left: 0, top: -1},
  {station: "NRK", series: nrk, yDomain: [-110, -50], yTicks: [-100, -50], left: 1166, top: -1},
  {station: "NLK", series: nlk, yDomain: [-95, -40], yTicks: [-80, -60, -40], left: 0, top: 348},
  {station: "DHO", series: dho, yDomain: [-95, -60], yTicks: [-90, -80, -70, -60], left: 1166, top: 348},
  {station: "NDK", series: ndk, yDomain: [-95, -40], yTicks: [-80, -60, -40], left: 0, top: 691},
  {station: "JXN", band: jxn, yDomain: [-95, -40], yTicks: [-80, -60, -40], left: 1166, top: 691},
  {station: "NAA", series: naa, yDomain: [-95, -40], yTicks: [-80, -60, -40], left: 0, top: 1032}
];

const innerW = 1050, innerH = 270;
const mL = 91, mR = 19, mT = 10, mB = 80;
const page = document.getElementById("page");

for (const p of panels) {
  const marks = [];
  if (p.band) {
    marks.push(Plot.areaY(p.band, {x: d => d[0], y1: d => d[1], y2: d => d[2], fill: blue, clip: true}));
    marks.push(Plot.line(p.band, {x: d => d[0], y: d => d[2], stroke: blue, strokeWidth: 1.2, clip: true}));
  }
  if (p.series) {
    marks.push(Plot.line(p.series, {x: d => d[0], y: d => d[1], stroke: blue, strokeWidth: 1.6, clip: true}));
  }
  marks.push(
    Plot.text([`${p.station} Amplitude: ${dateLabel}`], {
      text: d => d, frameAnchor: "bottom-left", dx: 52, dy: -7,
      textAnchor: "start", lineAnchor: "bottom", fontSize: 58, fill: "#000"
    }),
    Plot.frame({stroke: axisColor, strokeWidth: 1.4}),
    Plot.tickX(xTicks, {x: d => d, stroke: axisColor, strokeWidth: 1.3, insetTop: innerH - 12}),
    Plot.tickX(xTicks, {x: d => d, stroke: axisColor, strokeWidth: 1.3, insetBottom: innerH - 12}),
    Plot.tickY(p.yTicks, {y: d => d, stroke: axisColor, strokeWidth: 1.3, insetRight: innerW - 12}),
    Plot.tickY(p.yTicks, {y: d => d, stroke: axisColor, strokeWidth: 1.3, insetLeft: innerW - 12}),
    Plot.axisX(xTicks, {tickSize: 0, tickPadding: 29, tickFormat: d => xTickLabels[xTicks.indexOf(d)], fontSize: 40.5, fill: axisColor, label: null}),
    Plot.axisY(p.yTicks, {tickSize: 0, tickPadding: 21, tickFormat: d => String(d), fontSize: 40.5, fill: axisColor, label: null})
  );
  const svg = Plot.plot({
    width: mL + innerW + mR,
    height: mT + innerH + mB,
    marginLeft: mL, marginRight: mR, marginTop: mT, marginBottom: mB,
    x: {domain: [0, 24]},
    y: {domain: p.yDomain},
    style: {fontFamily: "DejaVu Sans, sans-serif", background: "transparent", overflow: "visible"},
    marks
  });
  svg.style.left = p.left + "px";
  svg.style.top = p.top + "px";
  svg.style.maxWidth = "none";
  page.appendChild(svg);
}
document.getElementById("caption").textContent = captionText;
</script></body></html>
